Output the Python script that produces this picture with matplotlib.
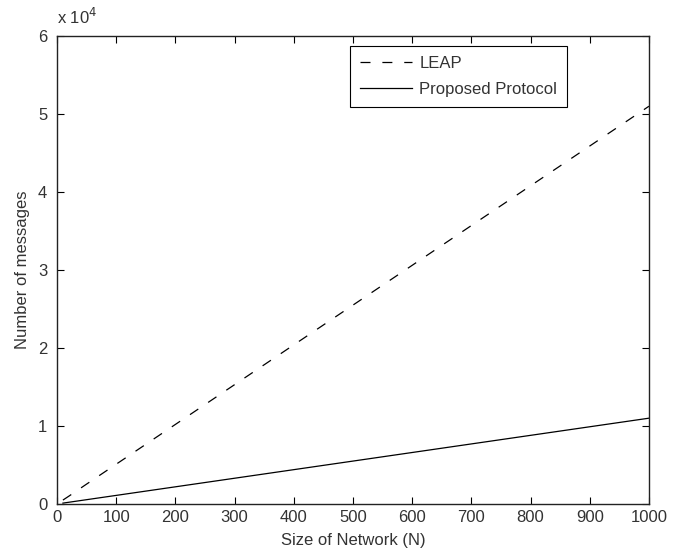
import matplotlib
matplotlib.use("Agg")
import matplotlib.pyplot as plt
from matplotlib.ticker import FuncFormatter

# Number of messages versus network size
NETWORK_SIZE = [10, 20, 50, 100, 200, 300, 400, 500, 600, 700, 800, 900, 1000]
LEAP_MSGS = [500, 1000, 2550, 5100, 10200, 15300, 20400, 25500, 30600, 35700, 40800, 45900, 51000]
PROPOSED_MSGS = [110, 220, 550, 1100, 2200, 3300, 4400, 5500, 6600, 7700, 8800, 9900, 11000]

X_TICKS = list(range(0, 1001, 100))
Y_TICKS = [0, 10000, 20000, 30000, 40000, 50000, 60000]

plt.rcParams["font.family"] = ["Liberation Sans", "DejaVu Sans"]
TEXT_COLOR = "#333333"
FS = 12

fig = plt.figure(figsize=(6.81, 5.54), dpi=100)
ax = fig.add_axes([0.0837, 0.0903, 0.8693, 0.8447])

ax.plot(NETWORK_SIZE, LEAP_MSGS, color="black", lw=0.9, dashes=(8, 9.5), label="LEAP")
ax.plot(NETWORK_SIZE, PROPOSED_MSGS, color="black", lw=0.9, label="Proposed Protocol")

ax.set_xlim(0, 1000)
ax.set_ylim(0, 60000)
ax.set_xticks(X_TICKS)
ax.set_yticks(Y_TICKS)
ax.yaxis.set_major_formatter(FuncFormatter(lambda v, p: f"{v / 1e4:g}"))

ax.tick_params(direction="in", top=True, right=True, length=5, width=0.8,
               labelsize=FS, labelcolor=TEXT_COLOR, pad=4)
ax.tick_params(axis="y", pad=7)
for s in ax.spines.values():
    s.set_linewidth(1.0)
    s.set_color("#222222")

ax.set_xlabel("Size of Network (N)", fontsize=FS, color=TEXT_COLOR, labelpad=6)
ax.set_ylabel("Number of messages", fontsize=FS, color=TEXT_COLOR, labelpad=6)
ax.text(0.0, 1.02, r"x 10$^{4}$", transform=ax.transAxes, fontsize=FS,
        color=TEXT_COLOR, ha="left", va="bottom")

leg = ax.legend(loc="upper left", bbox_to_anchor=(0.495, 0.978), fontsize=FS,
                handlelength=3.1, handletextpad=0.45, borderpad=0.6,
                labelspacing=0.62, fancybox=False, framealpha=1,
                borderaxespad=0)
leg.get_frame().set_edgecolor("black")
leg.get_frame().set_linewidth(0.8)
for t in leg.get_texts():
    t.set_color(TEXT_COLOR)

fig.savefig("out.png", dpi=100)
